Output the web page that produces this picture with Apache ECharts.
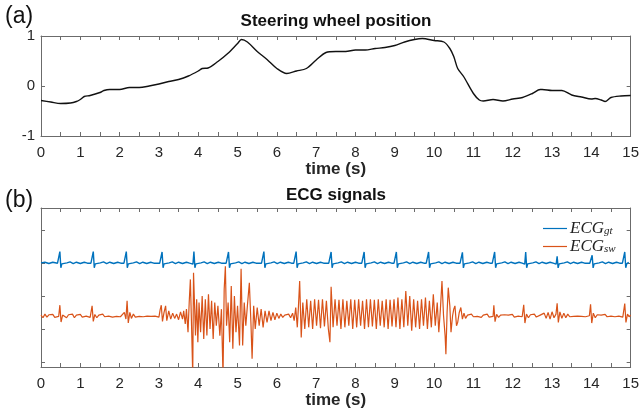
<!doctype html>
<html lang="en">
<head>
    <meta charset="UTF-8">
    <title>Steering wheel position / ECG signals</title>
    <script type="text/javascript" src="https://cdn.jsdelivr.net/npm/echarts@6/dist/echarts.min.js"></script>
    <style>
        html, body { margin: 0; padding: 0; background: #fff; }
        #container { width: 642px; height: 418px; }
    </style>
</head>
<body>
<div id="container"></div>
<script type="text/javascript">

    // (a) steering wheel position, [time s, position]
    var steering = [
        [0, -0.29], [0.25, -0.32], [0.5, -0.35], [0.75, -0.34], [0.9, -0.31], [1.0, -0.27],
        [1.1, -0.21], [1.25, -0.19], [1.5, -0.13], [1.6, -0.09], [1.75, -0.07], [2.0, -0.07],
        [2.25, -0.03], [2.5, -0.03], [2.75, 0], [3.0, 0.04], [3.25, 0.09], [3.5, 0.13],
        [3.75, 0.2], [4.0, 0.3], [4.1, 0.35], [4.25, 0.36], [4.5, 0.49], [4.75, 0.65],
        [5.0, 0.85], [5.1, 0.93], [5.25, 0.88], [5.5, 0.69], [5.75, 0.53], [6.0, 0.35],
        [6.25, 0.25], [6.5, 0.3], [6.75, 0.35], [7.0, 0.52], [7.25, 0.67], [7.5, 0.69],
        [7.75, 0.69], [8.0, 0.72], [8.25, 0.72], [8.5, 0.75], [8.75, 0.77], [9.0, 0.81],
        [9.25, 0.88], [9.5, 0.93], [9.7, 0.95], [10.0, 0.91], [10.25, 0.88], [10.4, 0.75],
        [10.5, 0.59], [10.6, 0.35], [10.75, 0.19], [11.0, -0.15], [11.15, -0.28], [11.25, -0.3],
        [11.5, -0.27], [11.75, -0.3], [12.0, -0.26], [12.25, -0.23], [12.5, -0.15], [12.7, -0.07],
        [12.75, -0.07], [13.0, -0.09], [13.25, -0.09], [13.5, -0.18], [13.75, -0.22], [14.0, -0.26],
        [14.1, -0.25], [14.25, -0.28], [14.35, -0.31], [14.5, -0.23], [14.75, -0.2], [15.0, -0.19]
    ];

    // (b) ground-truth ECG: beat times, R-peak heights, and one beat's shape
    var gtBeatTimes = [0.48, 1.33, 2.17, 3.08, 3.89, 4.77, 5.67, 6.49, 7.38, 8.22, 9.04, 9.86,
        10.72, 11.54, 12.33, 13.13, 14.02, 14.85];
    var gtPeaks = [1.34, 1.34, 1.34, 1.33, 1.34, 1.33, 1.34, 1.34, 1.33, 1.33, 1.33, 1.33,
        1.32, 1.33, 1.33, 1.2, 1.23, 1.33];
    var gtShape = [[-0.06, 0.99], [-0.025, 0.96], [0, null], [0.025, 0.85], [0.05, 0.97],
        [0.1, 1.02], [0.18, 1.0], [0.26, 1.03], [0.34, 0.98], [0.42, 1.02], [0.52, 0.98],
        [0.62, 1.02], [0.7, 0.99]];
    var gtStart = [[0, 1.0], [0.1, 1.02], [0.2, 0.98], [0.3, 1.02]];

    // (b) steering-wheel ECG, [time s, value]
    var ecgSw = [
        [0.00, -0.58], [0.05, -0.66], [0.10, -0.55], [0.15, -0.64], [0.20, -0.57], [0.25, -0.62],
        [0.30, -0.56], [0.35, -0.65], [0.40, -0.60], [0.45, -0.62], [0.48, -0.28], [0.51, -0.79],
        [0.55, -0.58], [0.60, -0.52], [0.65, -0.66], [0.70, -0.57], [0.75, -0.63], [0.80, -0.55],
        [0.85, -0.66], [0.90, -0.58], [0.95, -0.62], [1.00, -0.56], [1.05, -0.64], [1.10, -0.59],
        [1.15, -0.61], [1.20, -0.55], [1.25, -0.65], [1.30, -0.30], [1.33, -0.77], [1.37, -0.56],
        [1.42, -0.66], [1.47, -0.58], [1.52, -0.62], [1.57, -0.55], [1.62, -0.63], [1.67, -0.59],
        [1.72, -0.61], [1.77, -0.57], [1.82, -0.64], [1.87, -0.58], [1.92, -0.62], [1.97, -0.56],
        [2.02, -0.63], [2.07, -0.60], [2.12, -0.50], [2.16, -0.70], [2.19, -0.15], [2.22, -0.82],
        [2.26, -0.50], [2.30, -0.68], [2.35, -0.55], [2.40, -0.64], [2.45, -0.58], [2.50, -0.62],
        [2.55, -0.57], [2.60, -0.63], [2.65, -0.59], [2.70, -0.61], [2.75, -0.58], [2.80, -0.62],
        [2.85, -0.59], [2.90, -0.61], [2.95, -0.60], [3.00, -0.64], [3.03, -0.42], [3.06, -0.28],
        [3.09, -0.77], [3.13, -0.50], [3.17, -0.30], [3.20, -0.75], [3.25, -0.45], [3.30, -0.70],
        [3.35, -0.52], [3.40, -0.68], [3.45, -0.55], [3.50, -0.72], [3.55, -0.48], [3.60, -0.70],
        [3.63, -0.45], [3.67, -0.85], [3.70, -0.40], [3.74, -1.10], [3.77, -0.20], [3.80, 0.50],
        [3.83, -0.90], [3.86, -2.40], [3.88, 0.70], [3.90, 0.76], [3.93, -1.20], [3.96, -0.10],
        [3.99, -1.40], [4.02, -0.20], [4.06, -1.10], [4.10, 0.00], [4.14, -1.30], [4.18, -0.10],
        [4.22, -1.20], [4.26, 0.05], [4.30, -1.00], [4.34, -0.15], [4.38, -1.30], [4.42, -0.20],
        [4.46, -0.90], [4.50, -0.30], [4.55, -1.20], [4.59, -0.40], [4.63, -2.40], [4.66, 0.20],
        [4.69, 0.90], [4.72, -0.90], [4.76, -0.20], [4.80, -1.40], [4.84, 0.30], [4.88, -1.60],
        [4.92, 0.00], [4.96, -1.10], [5.00, -0.30], [5.05, -1.50], [5.09, 0.82], [5.13, -1.50],
        [5.17, -0.20], [5.21, -0.90], [5.25, -0.30], [5.30, 0.40], [5.34, -0.80], [5.37, -1.90],
        [5.41, -0.30], [5.45, -1.00], [5.50, -0.35], [5.55, -0.90], [5.60, -0.40], [5.65, -0.95],
        [5.70, -0.45], [5.75, -0.80], [5.80, -0.45], [5.85, -0.75], [5.90, -0.50], [5.95, -0.72],
        [6.00, -0.52], [6.05, -0.68], [6.10, -0.55], [6.15, -0.65], [6.20, -0.58], [6.25, -0.64],
        [6.30, -0.55], [6.35, -0.66], [6.40, -0.52], [6.44, -0.75], [6.48, -0.35], [6.52, -0.95],
        [6.55, -0.30], [6.58, 0.45], [6.62, -1.26], [6.66, -0.20], [6.71, -1.00], [6.76, -0.10],
        [6.81, -0.95], [6.86, -0.15], [6.91, -1.00], [6.96, -0.10], [7.01, -0.90], [7.06, -0.12],
        [7.11, -0.98], [7.16, -0.10], [7.21, -0.92], [7.26, -0.15], [7.31, -1.00], [7.35, -1.40],
        [7.38, 0.28], [7.43, -0.95], [7.48, -0.10], [7.53, -0.90], [7.58, -0.12], [7.63, -1.00],
        [7.68, -0.10], [7.73, -0.95], [7.78, -0.15], [7.83, -0.90], [7.88, -0.10], [7.93, -1.00],
        [7.98, -0.12], [8.03, -0.95], [8.08, -0.10], [8.13, -0.90], [8.18, -0.15], [8.23, -1.00],
        [8.28, -0.10], [8.33, -0.95], [8.38, -0.10], [8.43, -0.92], [8.48, -0.12], [8.53, -1.00],
        [8.58, -0.10], [8.63, -0.90], [8.68, -0.15], [8.73, -0.95], [8.78, -0.10], [8.83, -1.00],
        [8.88, -0.12], [8.93, -0.92], [8.98, -0.10], [9.03, -0.95], [9.08, -0.05], [9.13, -1.00],
        [9.18, -0.10], [9.23, -0.95], [9.28, 0.15], [9.33, -0.90], [9.38, 0.00], [9.43, -1.05],
        [9.48, -0.10], [9.53, -0.95], [9.58, -0.15], [9.63, -1.00], [9.68, -0.10], [9.73, -0.90],
        [9.78, -0.05], [9.83, -1.00], [9.88, -0.15], [9.93, -0.95], [9.98, 0.05], [10.03, -0.90],
        [10.08, -0.20], [10.12, -1.10], [10.16, -0.40], [10.20, 0.45], [10.24, -0.60], [10.28, -1.20],
        [10.30, -1.76], [10.33, -0.50], [10.36, 0.25], [10.40, -0.30], [10.43, -1.10], [10.47, -0.60],
        [10.50, -0.40], [10.53, -0.30], [10.57, -0.90], [10.60, -0.80], [10.64, -0.50], [10.68, -0.35],
        [10.72, -0.70], [10.76, -0.52], [10.80, -0.68], [10.85, -0.58], [10.90, -0.64], [10.95, -0.55],
        [11.00, -0.63], [11.05, -0.57], [11.10, -0.62], [11.15, -0.56], [11.20, -0.65], [11.25, -0.58],
        [11.30, -0.61], [11.35, -0.55], [11.40, -0.64], [11.45, -0.59], [11.50, -0.62], [11.52, -0.28],
        [11.55, -0.78], [11.59, -0.56], [11.64, -0.65], [11.69, -0.58], [11.74, -0.62], [11.79, -0.57],
        [11.84, -0.63], [11.89, -0.58], [11.94, -0.61], [11.99, -0.56], [12.04, -0.64], [12.09, -0.59],
        [12.14, -0.61], [12.19, -0.57], [12.24, -0.63], [12.28, -0.27], [12.31, -0.82], [12.35, -0.55],
        [12.40, -0.66], [12.45, -0.57], [12.50, -0.62], [12.55, -0.55], [12.60, -0.64], [12.65, -0.60],
        [12.70, -0.58], [12.75, -0.63], [12.80, -0.52], [12.85, -0.68], [12.90, -0.50], [12.95, -0.70],
        [13.00, -0.48], [13.05, -0.66], [13.10, -0.55], [13.13, -0.22], [13.16, -0.80], [13.20, -0.48],
        [13.25, -0.68], [13.30, -0.52], [13.35, -0.66], [13.40, -0.55], [13.45, -0.63], [13.50, -0.57],
        [13.55, -0.62], [13.60, -0.58], [13.65, -0.61], [13.70, -0.57], [13.75, -0.62], [13.80, -0.58],
        [13.85, -0.63], [13.90, -0.57], [13.95, -0.60], [13.98, -0.25], [14.01, -0.82], [14.05, -0.52],
        [14.10, -0.66], [14.15, -0.57], [14.20, -0.62], [14.25, -0.58], [14.30, -0.61], [14.35, -0.56],
        [14.40, -0.63], [14.45, -0.59], [14.50, -0.61], [14.55, -0.57], [14.60, -0.63], [14.65, -0.58],
        [14.70, -0.61], [14.75, -0.56], [14.80, -0.64], [14.85, -0.23], [14.88, -0.80], [14.92, -0.55],
        [14.96, -0.63], [15.00, -0.58]
    ];

    var xTicks = [0, 15];        // time axis range
    var ecgTicks = [-2, -1, 0, 1, 2];

    var ecgGt = gtStart.slice();
    for (var i = 0; i < gtBeatTimes.length; i++) {
        for (var k = 0; k < gtShape.length; k++) {
            var t = +(gtBeatTimes[i] + gtShape[k][0]).toFixed(3);
            if (t > 15) continue;
            ecgGt.push([t, gtShape[k][1] === null ? gtPeaks[i] : gtShape[k][1]]);
        }
    }

    var axisColor = '#6b6b6b';
    var labelColor = '#262626';
    var font = 'Liberation Sans, Arial, sans-serif';

    function timeAxis(grid, pos, showLabel) {
        return {
            type: 'value', gridIndex: grid, position: pos,
            min: xTicks[0], max: xTicks[1], interval: 0.5,
            name: showLabel ? 'time (s)' : '',
            nameLocation: 'middle', nameGap: 24,
            nameTextStyle: {fontFamily: font, fontSize: 17, fontWeight: 'bold', color: labelColor},
            axisLine: {show: true, onZero: false, lineStyle: {color: axisColor, width: 1}},
            axisTick: {show: true, inside: true, length: 4, lineStyle: {color: axisColor}},
            axisLabel: {
                show: showLabel, margin: 9, fontFamily: font, fontSize: 15, color: labelColor,
                formatter: function (v) { return v % 1 === 0 ? String(v) : ''; }
            },
            splitLine: {show: false}
        };
    }

    function valueAxis(grid, pos, showLabel, min, max, custom) {
        var ax = {
            type: 'value', gridIndex: grid, position: pos, min: min, max: max,
            axisLine: {show: true, onZero: false, lineStyle: {color: axisColor, width: 1}},
            axisTick: {show: true, inside: true, length: 4, lineStyle: {color: axisColor}},
            axisLabel: {show: showLabel, margin: 6, fontFamily: font, fontSize: 15, color: labelColor},
            splitLine: {show: false}
        };
        if (custom) {
            ax.axisTick.customValues = custom;
            ax.axisLabel.customValues = custom;
        } else {
            ax.interval = 1;
        }
        return ax;
    }

    var myChart = echarts.init(document.getElementById('container'), null, {renderer: 'canvas'});

    var option = {
        animation: false,
        backgroundColor: '#fff',
        grid: [
            {left: 41, right: 10, top: 36, height: 100},
            {left: 41, right: 10, top: 208, height: 159}
        ],
        xAxis: [
            timeAxis(0, 'bottom', true),
            timeAxis(0, 'top', false),
            timeAxis(1, 'bottom', true),
            timeAxis(1, 'top', false)
        ],
        yAxis: [
            valueAxis(0, 'left', true, -1, 1),
            valueAxis(0, 'right', false, -1, 1),
            valueAxis(1, 'left', false, -2.15, 2.66, ecgTicks),
            valueAxis(1, 'right', false, -2.15, 2.66, ecgTicks)
        ],
        legend: {
            data: ['gt', 'sw'],
            orient: 'vertical',
            left: 538, top: 214,
            itemWidth: 24, itemHeight: 1.2, itemGap: 0,
            icon: 'rect',
            textStyle: {
                padding: [0, 0, 0, -2],
                rich: {
                    m: {fontFamily: 'Liberation Serif', fontStyle: 'italic', fontSize: 17, color: '#222', lineHeight: 17},
                    s: {fontFamily: 'Liberation Serif', fontStyle: 'italic', fontSize: 11, color: '#222',
                        lineHeight: 17, verticalAlign: 'bottom', padding: [7, 0, 0, 0]}
                }
            },
            formatter: function (name) { return '{m|ECG}{s|' + name + '}'; }
        },
        graphic: [
            {type: 'text', x: 336, y: 21, style: {text: 'Steering wheel position', font: 'bold 17px ' + font,
                fill: '#111', textAlign: 'center', textVerticalAlign: 'middle', align: 'center', verticalAlign: 'middle'}},
            {type: 'text', x: 336, y: 195, style: {text: 'ECG signals', font: 'bold 17px ' + font,
                fill: '#111', textAlign: 'center', textVerticalAlign: 'middle', align: 'center', verticalAlign: 'middle'}},
            {type: 'text', x: 5, y: 17, style: {text: '(a)', font: '23px ' + font, fill: '#111',
                textVerticalAlign: 'middle', verticalAlign: 'middle'}},
            {type: 'text', x: 5, y: 201, style: {text: '(b)', font: '23px ' + font, fill: '#111',
                textVerticalAlign: 'middle', verticalAlign: 'middle'}}
        ],
        series: [
            {
                name: 'steering', type: 'line', xAxisIndex: 0, yAxisIndex: 0,
                data: steering, smooth: 0.3, showSymbol: false,
                lineStyle: {color: '#111', width: 1.4}
            },
            {
                name: 'gt', type: 'line', xAxisIndex: 2, yAxisIndex: 2,
                data: ecgGt, showSymbol: false, color: '#0072BD',
                lineStyle: {color: '#0072BD', width: 1.4}
            },
            {
                name: 'sw', type: 'line', xAxisIndex: 2, yAxisIndex: 2,
                data: ecgSw, showSymbol: false, color: '#D95319',
                lineStyle: {color: '#D95319', width: 1.2}
            }
        ]
    };

    myChart.setOption(option, true);

</script>
</body>
</html>
